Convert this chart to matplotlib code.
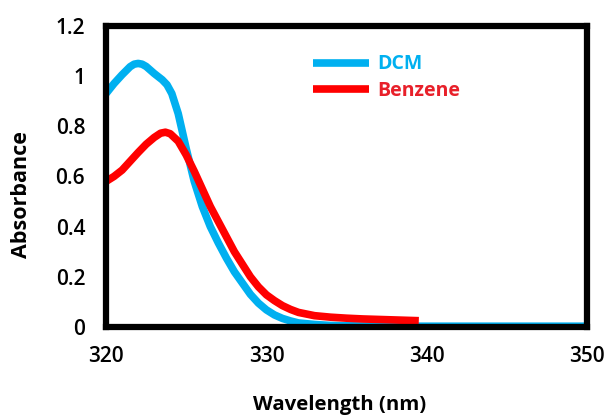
import matplotlib
matplotlib.use("Agg")
import matplotlib.pyplot as plt

plt.rcParams['font.family'] = ['Open Sans', 'DejaVu Sans']

# DCM spectrum
wl_dcm = [320, 320.5, 321, 321.5, 321.75, 322, 322.25, 322.5, 323, 323.5, 323.8,
          324.1, 324.5, 325, 325.5, 326, 326.5, 327, 327.5, 328, 328.5, 329,
          329.5, 330, 330.5, 331, 331.5, 332, 333, 334, 336, 338, 340, 345, 350]
abs_dcm = [0.93, 0.97, 1.005, 1.037, 1.047, 1.05, 1.047, 1.038, 1.01, 0.985, 0.965,
           0.93, 0.85, 0.71, 0.58, 0.48, 0.40, 0.335, 0.275, 0.22, 0.175, 0.13,
           0.095, 0.068, 0.048, 0.034, 0.024, 0.016, 0.010, 0.006, 0.004, 0.003,
           0.003, 0.003, 0.003]

# Benzene spectrum
wl_benz = [320, 320.5, 321, 321.5, 322, 322.5, 323, 323.4, 323.7, 324, 324.5,
           325, 325.5, 326, 326.5, 327, 327.5, 328, 328.5, 329, 329.5, 330,
           330.5, 331, 331.5, 332, 333, 334, 335, 336, 337, 338, 339, 339.5]
abs_benz = [0.58, 0.60, 0.625, 0.66, 0.695, 0.728, 0.755, 0.772, 0.776, 0.77, 0.74,
            0.685, 0.62, 0.55, 0.48, 0.42, 0.36, 0.30, 0.25, 0.20, 0.16, 0.128,
            0.105, 0.085, 0.07, 0.058, 0.045, 0.039, 0.035, 0.032, 0.03, 0.028,
            0.026, 0.025]

blue = "#00B0F0"
red = "#FF0000"

fig = plt.figure(figsize=(6.06, 4.16), dpi=100)
ax = fig.add_axes([0.175, 0.214, 0.794, 0.724])

ax.plot(wl_dcm, abs_dcm, color=blue, lw=5.5, label="DCM",
        solid_capstyle="butt", solid_joinstyle="round")
ax.plot(wl_benz, abs_benz, color=red, lw=5.5, label="Benzene",
        solid_capstyle="butt", solid_joinstyle="round")

ax.set_xlim(320, 350)
ax.set_ylim(0, 1.2)
ax.set_xticks([320, 330, 340, 350])
ax.set_yticks([0, 0.2, 0.4, 0.6, 0.8, 1.0, 1.2])
ax.set_yticklabels(["0", "0.2", "0.4", "0.6", "0.8", "1", "1.2"])
ax.tick_params(length=0, labelsize=15)
ax.tick_params(axis='y', pad=15)
ax.tick_params(axis='x', pad=14)
for lab in ax.get_xticklabels() + ax.get_yticklabels():
    lab.set_fontweight("semibold")

for s in ax.spines.values():
    s.set_linewidth(4.5)
    s.set_color("black")

ax.set_xlabel("Wavelength (nm)", fontsize=14.7, fontweight="bold", va="center")
ax.xaxis.set_label_coords(0.486, -0.259)
ax.set_ylabel("Absorbance", fontsize=15.5, fontweight="bold", va="center")
ax.yaxis.set_label_coords(-0.175, 0.44)

leg = ax.legend(loc="upper left", bbox_to_anchor=(0.393, 0.963), frameon=False,
                handlelength=2.9, handletextpad=0.4, labelspacing=0.35,
                labelcolor=[blue, "#E8202A"],
                prop={"size": 14, "weight": "bold"})

fig.savefig("out.png", dpi=100)
